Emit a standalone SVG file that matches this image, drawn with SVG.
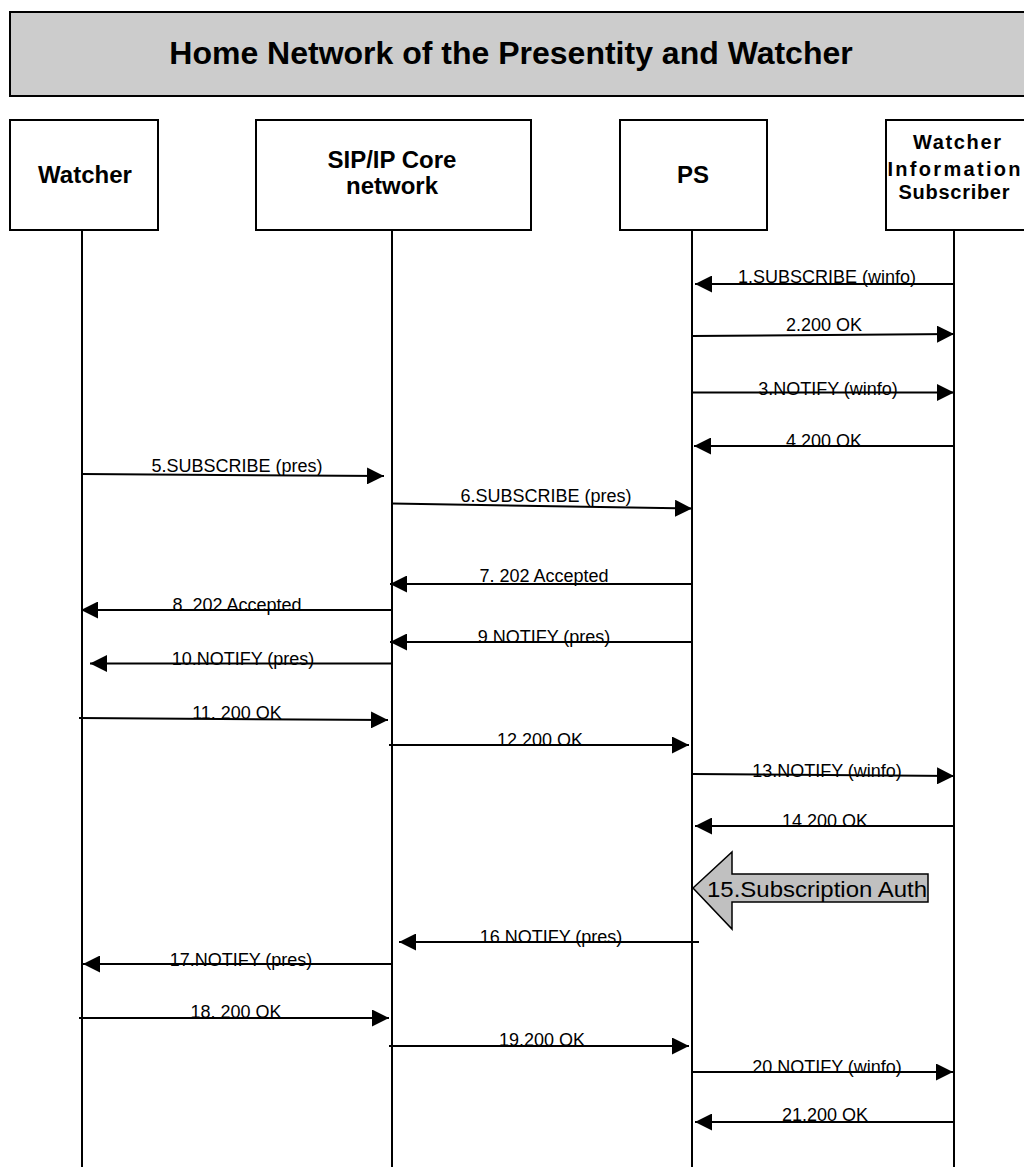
<svg xmlns="http://www.w3.org/2000/svg" width="1024" height="1167" viewBox="0 0 1024 1167">
<style>
.box{fill:#fff;stroke:#000;stroke-width:2}
.hdr{fill:#cccccc;stroke:#000;stroke-width:2}
.ttl{font-family:"Liberation Sans",Arial,sans-serif;font-weight:bold;font-size:32px;text-anchor:middle}
.nl{font-family:"Liberation Sans",Arial,sans-serif;font-weight:bold;font-size:24px;text-anchor:middle}
.nls{font-family:"Liberation Sans",Arial,sans-serif;font-weight:bold;font-size:20px;text-anchor:middle}
.life{stroke:#000;stroke-width:2;fill:none}
.msg{stroke:#000;stroke-width:2;fill:none;marker-end:url(#ah)}
.lbl{font-family:"Liberation Sans",Arial,sans-serif;font-size:18px;text-anchor:middle}
.big{fill:#c0c0c0;stroke:#000;stroke-width:1.5}
.bigt{font-family:"Liberation Sans",Arial,sans-serif;font-size:22px}
</style>
<defs>
<marker id="ah" markerUnits="userSpaceOnUse" markerWidth="17" markerHeight="17" refX="17" refY="8.5" orient="auto">
<path d="M0,0 L17,8.5 L0,17 z" fill="#000"/>
</marker>
</defs>
<g id="header">
<rect class="hdr" x="10" y="12" width="1020" height="84"/>
<text class="ttl" x="511" y="64">Home Network of the Presentity and Watcher</text>
</g>
<g id="node-watcher">
<rect class="box" x="10" y="120" width="148" height="110"/>
<text class="nl" x="85" y="183">Watcher</text>
</g>
<g id="node-sip">
<rect class="box" x="256" y="120" width="275" height="110"/>
<text class="nl" x="392" y="168">SIP/IP Core</text>
<text class="nl" x="392" y="194">network</text>
</g>
<g id="node-ps">
<rect class="box" x="620" y="120" width="147" height="110"/>
<text class="nl" x="693" y="183">PS</text>
</g>
<g id="node-wis">
<rect class="box" x="886" y="120" width="146" height="110"/>
<text class="nls" x="957" y="149" textLength="88" lengthAdjust="spacing">Watcher</text>
<text class="nls" x="954" y="176" textLength="133" lengthAdjust="spacing">Information</text>
<text class="nls" x="954" y="199" textLength="111" lengthAdjust="spacing">Subscriber</text>
</g>
<g id="lifelines">
<line class="life" x1="82" y1="230" x2="82" y2="1167"/>
<line class="life" x1="392" y1="230" x2="392" y2="1167"/>
<line class="life" x1="692" y1="230" x2="692" y2="1167"/>
<line class="life" x1="954" y1="230" x2="954" y2="1167"/>
</g>
<g id="connectors">
<line class="msg" x1="954" y1="284" x2="695" y2="284"/>
<line class="msg" x1="692" y1="336" x2="954" y2="334"/>
<line class="msg" x1="692" y1="392.5" x2="954" y2="392.5"/>
<line class="msg" x1="954" y1="446" x2="694" y2="446"/>
<line class="msg" x1="82" y1="474" x2="384" y2="476"/>
<line class="msg" x1="392" y1="503.5" x2="692" y2="508.5"/>
<line class="msg" x1="692" y1="584" x2="390" y2="584"/>
<line class="msg" x1="392" y1="610" x2="81" y2="610"/>
<line class="msg" x1="692" y1="642" x2="390" y2="642"/>
<line class="msg" x1="392" y1="663.5" x2="90" y2="663.5"/>
<line class="msg" x1="79" y1="718" x2="388" y2="720"/>
<line class="msg" x1="389" y1="745" x2="689" y2="745"/>
<line class="msg" x1="692" y1="774" x2="954" y2="776"/>
<line class="msg" x1="954" y1="826" x2="695" y2="826"/>
<line class="msg" x1="699" y1="942" x2="399" y2="942"/>
<line class="msg" x1="392" y1="964" x2="83" y2="964"/>
<line class="msg" x1="79" y1="1018" x2="389" y2="1018"/>
<line class="msg" x1="389" y1="1046" x2="689" y2="1046"/>
<line class="msg" x1="692" y1="1072" x2="953" y2="1072"/>
<line class="msg" x1="954" y1="1122" x2="695" y2="1122"/>
</g>
<g id="labels">
<text class="lbl" x="827" y="283">1.SUBSCRIBE (winfo)</text>
<text class="lbl" x="824" y="331">2.200 OK</text>
<text class="lbl" x="828" y="395">3.NOTIFY (winfo)</text>
<text class="lbl" x="824" y="447">4.200 OK</text>
<text class="lbl" x="237" y="472">5.SUBSCRIBE (pres)</text>
<text class="lbl" x="546" y="502">6.SUBSCRIBE (pres)</text>
<text class="lbl" x="544" y="582">7. 202 Accepted</text>
<text class="lbl" x="237" y="611">8. 202 Accepted</text>
<text class="lbl" x="544" y="643">9.NOTIFY (pres)</text>
<text class="lbl" x="243" y="665">10.NOTIFY (pres)</text>
<text class="lbl" x="237" y="719">11. 200 OK</text>
<text class="lbl" x="540" y="746">12.200 OK</text>
<text class="lbl" x="827" y="777">13.NOTIFY (winfo)</text>
<text class="lbl" x="825" y="827">14.200 OK</text>
<text class="lbl" x="551" y="943">16.NOTIFY (pres)</text>
<text class="lbl" x="241" y="966">17.NOTIFY (pres)</text>
<text class="lbl" x="236" y="1018">18. 200 OK</text>
<text class="lbl" x="542" y="1046">19.200 OK</text>
<text class="lbl" x="827" y="1073">20.NOTIFY (winfo)</text>
<text class="lbl" x="825" y="1121">21.200 OK</text>
</g>
<g id="node-auth">
<polygon class="big" points="693,888 732,852 732,874 928,874 928,902 732,902 732,929"/>
<text class="bigt" x="707" y="897" textLength="220" lengthAdjust="spacingAndGlyphs">15.Subscription Auth</text>
</g>
</svg>
